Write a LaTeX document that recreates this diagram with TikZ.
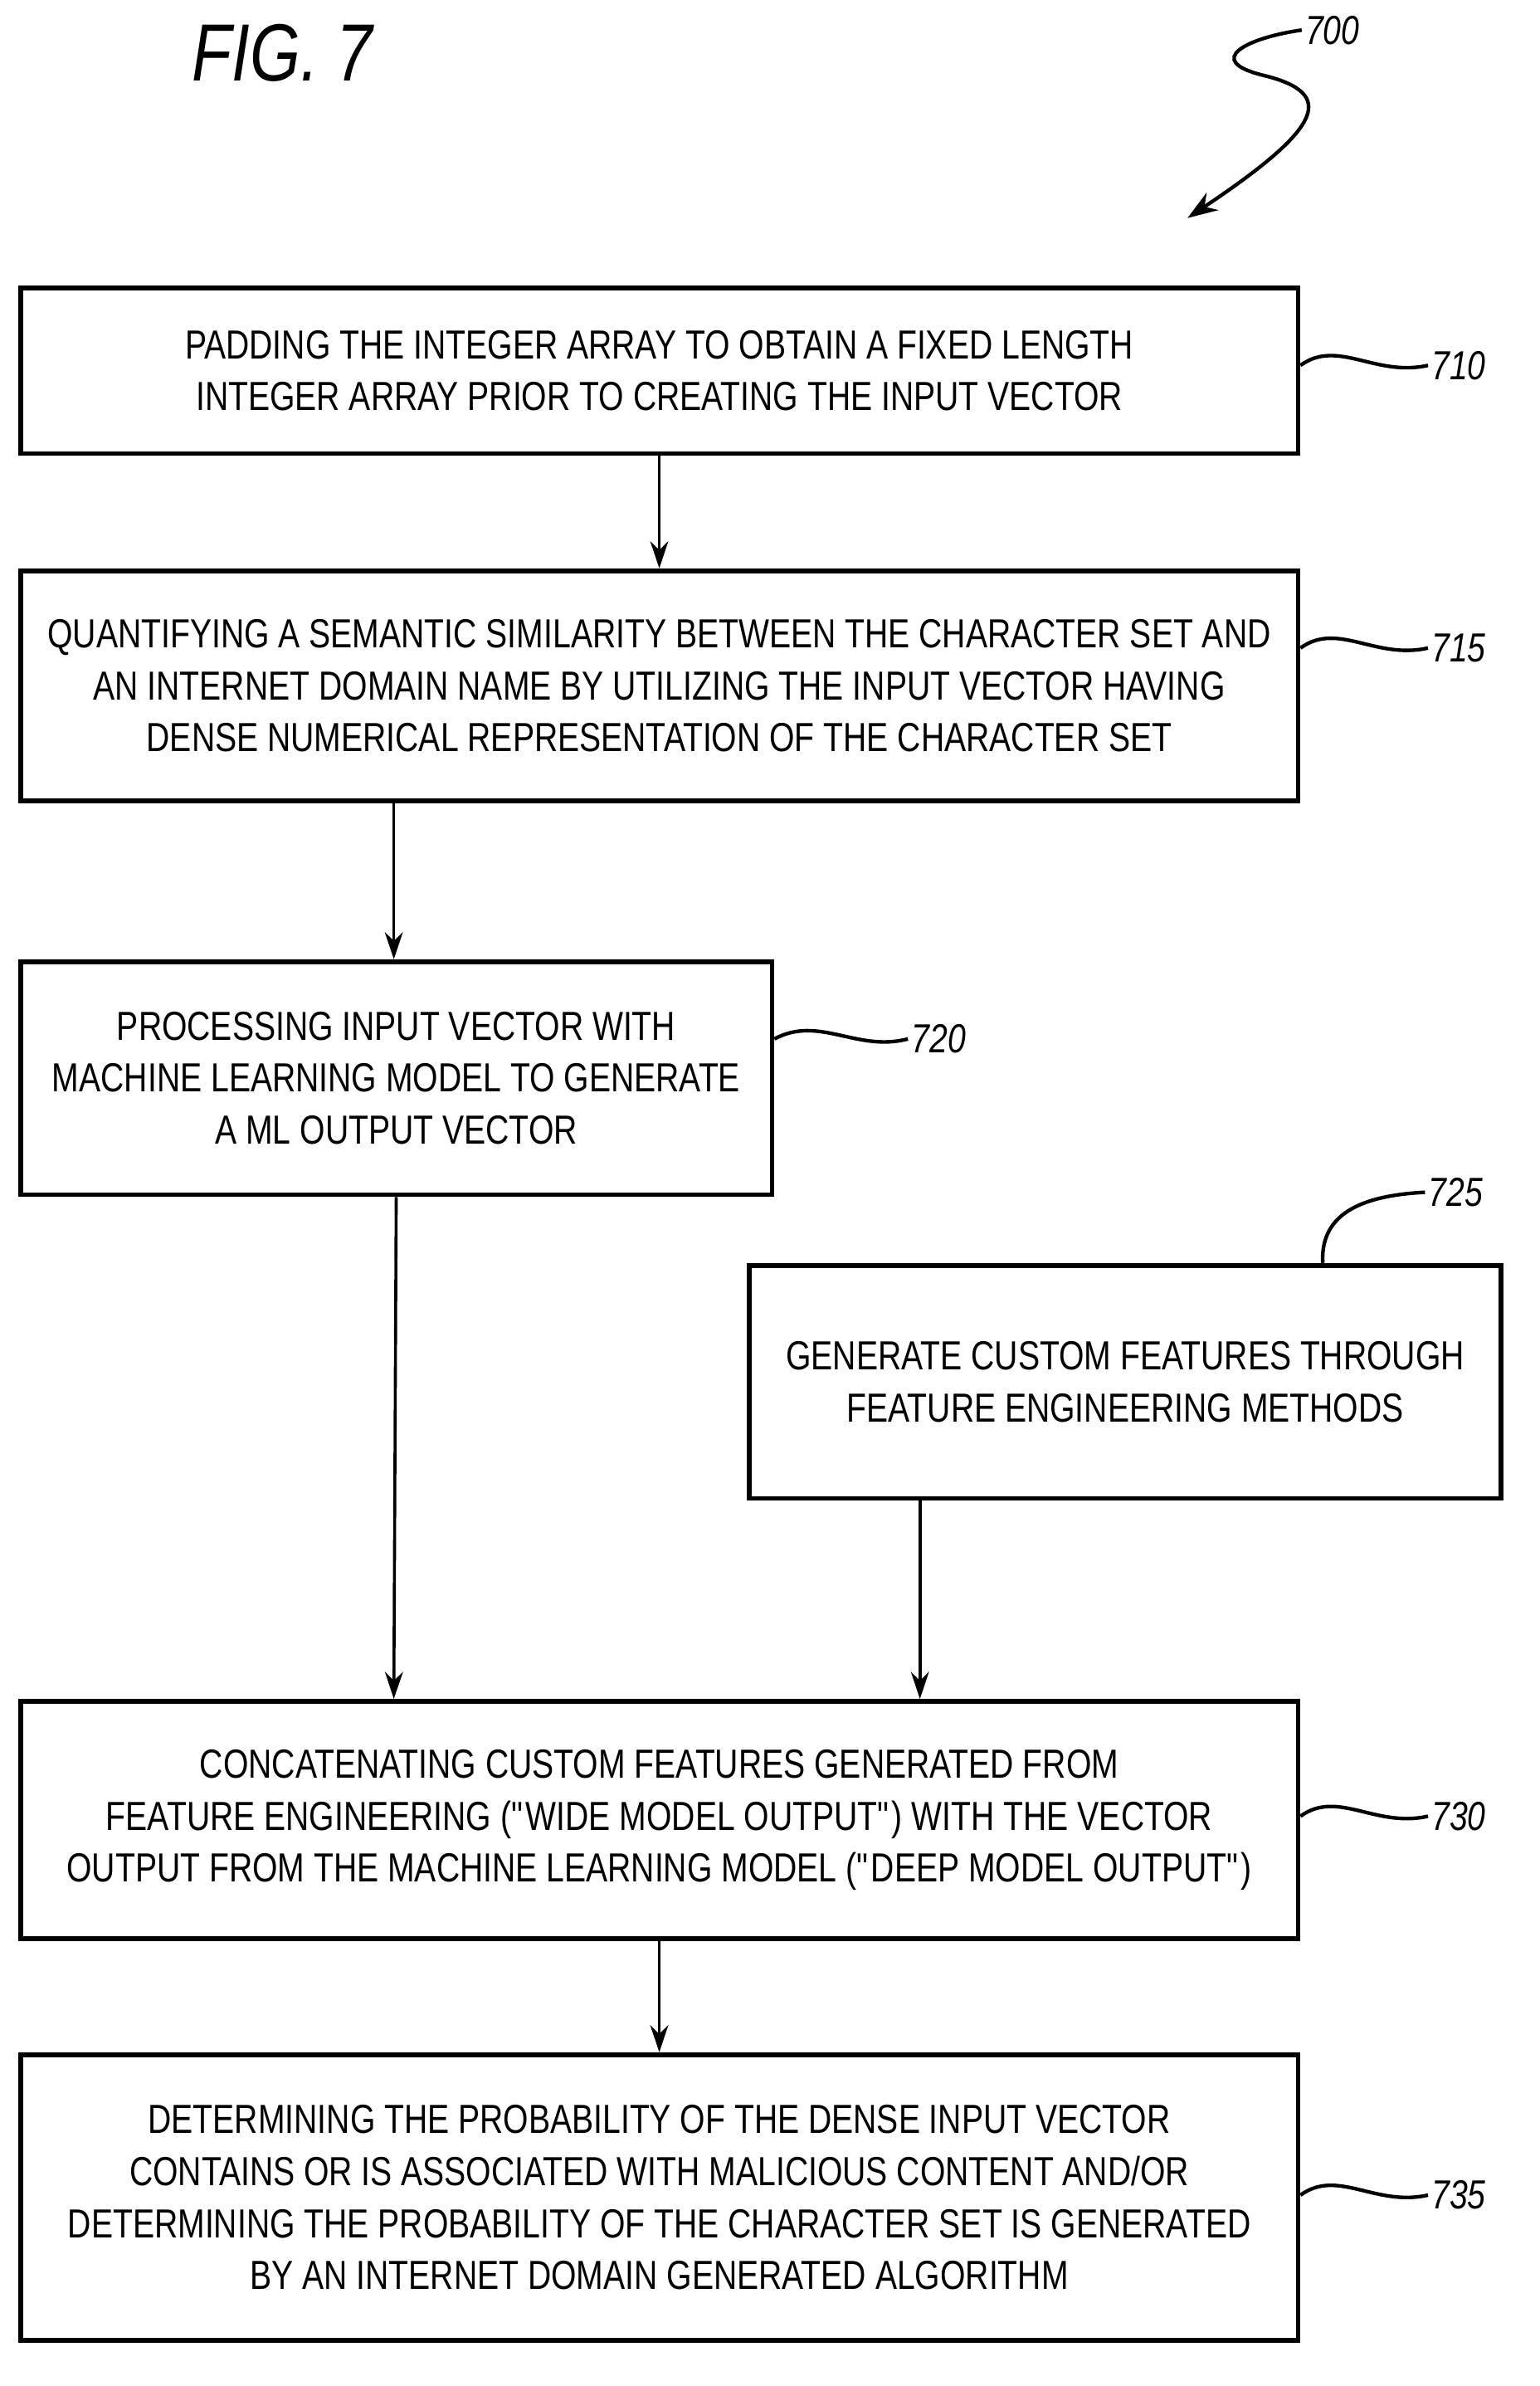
\documentclass[tikz,border=0pt]{standalone}
\usepackage{fontspec}
\setmainfont[FakeStretch=0.8]{Liberation Sans}
\usetikzlibrary{arrows.meta}
\begin{document}
\begin{tikzpicture}[x=0.5pt,y=-0.5pt,
 box/.style={draw,line width=1.6pt,align=center,font=\fontsize{13.5}{17.3}\selectfont,inner sep=0pt,anchor=north west},
 arr/.style={line width=1pt,-{Stealth[length=9pt,width=6pt]}},
 lead/.style={line width=1.2pt},
 num/.style={font=\itshape\fontsize{13.5}{14}\selectfont,anchor=west,inner sep=1pt}]
\useasboundingbox (0,0) rectangle (1024,1587);
\node[font=\itshape\fontsize{27}{30}\selectfont] (fig) at (188,35) {FIG. 7};
\node[box,minimum width=425pt,minimum height=55pt] (b710) at (12,190) {PADDING THE INTEGER ARRAY TO OBTAIN A FIXED LENGTH\\INTEGER ARRAY PRIOR TO CREATING THE INPUT VECTOR};
\node[box,minimum width=425pt,minimum height=76.5pt] (b715) at (12,378) {QUANTIFYING A SEMANTIC SIMILARITY BETWEEN THE CHARACTER SET AND\\AN INTERNET DOMAIN NAME BY UTILIZING THE INPUT VECTOR HAVING\\DENSE NUMERICAL REPRESENTATION OF THE CHARACTER SET};
\node[box,minimum width=250pt,minimum height=77.5pt] (b720) at (12,638) {PROCESSING INPUT VECTOR WITH\\MACHINE LEARNING MODEL TO GENERATE\\A ML OUTPUT VECTOR};
\node[box,minimum width=250pt,minimum height=77.5pt] (b725) at (497,840) {GENERATE CUSTOM FEATURES THROUGH\\FEATURE ENGINEERING METHODS};
\node[box,minimum width=425pt,minimum height=79pt] (b730) at (12,1130) {CONCATENATING CUSTOM FEATURES GENERATED FROM\\FEATURE ENGINEERING (\textquotedbl WIDE MODEL OUTPUT\textquotedbl) WITH THE VECTOR\\OUTPUT FROM THE MACHINE LEARNING MODEL (\textquotedbl DEEP MODEL OUTPUT\textquotedbl)};
\node[box,minimum width=425pt,minimum height=95pt] (b735) at (12,1365) {DETERMINING THE PROBABILITY OF THE DENSE INPUT VECTOR\\CONTAINS OR IS ASSOCIATED WITH MALICIOUS CONTENT AND/OR\\DETERMINING THE PROBABILITY OF THE CHARACTER SET IS GENERATED\\BY AN INTERNET DOMAIN GENERATED ALGORITHM};
\draw[arr] (b710.south) -- (b715.north);
\draw[arr] (b715.south -| 262,0) -- (b720.north -| 262,0);
\draw[arr] (b720.south) -- (b730.north -| 262,0);
\draw[arr] (b725.south -| 612,0) -- (b730.north -| 612,0);
\draw[arr] (b730.south) -- (b735.north);
\foreach \b/\y/\n in {710/243/710,715/431/715,730/1208/730,735/1460/735}{
 \node[num] (n\n) at (950,\y) {\n};
 \draw[lead] (b\b.east |- 0,\y) .. controls (890,\y-18) and (915,\y+8) .. (n\n.west);
}
\node[num] (n720) at (604,691) {720};
\draw[lead] (b720.east |- 0,691) .. controls (545,675) and (570,700) .. (n720.west);
\node[num] (n725) at (948,793) {725};
\draw[lead] (880,840) .. controls (878,805) and (910,795) .. (n725.west);
\node[num] (n700) at (866,20) {700};
\draw[lead,-{Stealth[length=10pt,width=7pt]}] (n700.west) .. controls (830,25) and (800,40) .. (840,50) .. controls (890,62) and (880,85) .. (790,145);
\end{tikzpicture}
\end{document}
